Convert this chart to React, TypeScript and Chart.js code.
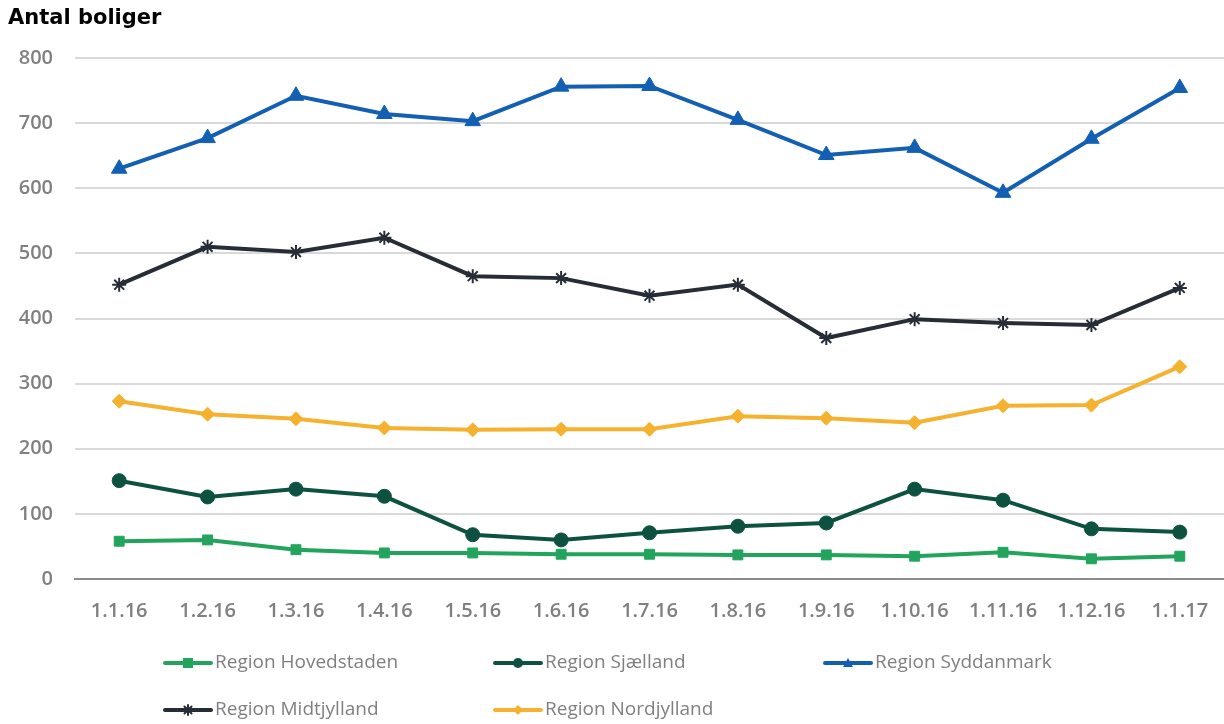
import React, { useEffect, useRef } from "react";
import { Chart, registerables } from "chart.js";

Chart.register(...registerables);

const categories = ["1.1.16", "1.2.16", "1.3.16", "1.4.16", "1.5.16", "1.6.16", "1.7.16", "1.8.16", "1.9.16", "1.10.16", "1.11.16", "1.12.16", "1.1.17"];
const hovedstaden = [58, 60, 45, 40, 40, 38, 38, 37, 37, 35, 41, 31, 35];
const sjaelland = [151, 126, 138, 127, 68, 60, 71, 81, 86, 138, 121, 77, 72];
const syddanmark = [630, 677, 742, 714, 703, 756, 757, 705, 651, 662, 593, 676, 754];
const midtjylland = [452, 510, 502, 524, 465, 462, 435, 452, 370, 399, 393, 390, 447];
const nordjylland = [273, 253, 246, 232, 229, 230, 230, 250, 247, 240, 266, 267, 326];
const yTicks = [0, 100, 200, 300, 400, 500, 600, 700, 800];

const seriesNames = ["Region Hovedstaden", "Region Sjælland", "Region Syddanmark", "Region Midtjylland", "Region Nordjylland"];
const seriesColors = ["#22A45D", "#0D5240", "#125FB3", "#262D36", "#F6B12F"];
const seriesMarkers = ["rect", "circle", "triangle", "star", "rectRot"];
const seriesRadius = [7, 7, 9, 7, 7];

function drawMarker(ctx: CanvasRenderingContext2D, style: string, x: number, y: number, r: number, color: string) {
  ctx.save();
  ctx.fillStyle = color;
  ctx.strokeStyle = color;
  ctx.lineWidth = 2;
  ctx.beginPath();
  if (style === "rect") {
    ctx.rect(x - r, y - r, 2 * r, 2 * r);
    ctx.fill();
  } else if (style === "circle") {
    ctx.arc(x, y, r, 0, Math.PI * 2);
    ctx.fill();
  } else if (style === "rectRot") {
    ctx.moveTo(x, y - r);
    ctx.lineTo(x + r, y);
    ctx.lineTo(x, y + r);
    ctx.lineTo(x - r, y);
    ctx.closePath();
    ctx.fill();
  } else if (style === "triangle") {
    ctx.moveTo(x, y - r);
    ctx.lineTo(x + r, y + r * 0.8);
    ctx.lineTo(x - r, y + r * 0.8);
    ctx.closePath();
    ctx.fill();
  } else if (style === "star") {
    for (let k = 0; k < 4; k++) {
      const a = (k * Math.PI) / 4;
      ctx.moveTo(x - r * Math.cos(a), y - r * Math.sin(a));
      ctx.lineTo(x + r * Math.cos(a), y + r * Math.sin(a));
    }
    ctx.stroke();
  }
  ctx.restore();
}

const legendPlugin = {
  id: "customLegend",
  afterDraw(chart: any) {
    const ctx = chart.ctx;
    ctx.save();
    ctx.font = "bold 21px 'DejaVu Sans'";
    ctx.fillStyle = "#000000";
    ctx.textBaseline = "middle";
    ctx.textAlign = "left";
    ctx.fillText("Antal boliger", 8, 19);
    const cols = [165, 495, 825];
    const rows = [663, 710];
    chart.data.datasets.forEach((ds: any, i: number) => {
      const x = cols[i % 3];
      const y = rows[Math.floor(i / 3)];
      ctx.strokeStyle = ds.borderColor;
      ctx.lineWidth = 4;
      ctx.lineCap = "round";
      ctx.beginPath();
      ctx.moveTo(x, y);
      ctx.lineTo(x + 46, y);
      ctx.stroke();
      drawMarker(ctx, ds.pointStyle, x + 23, y, 5, ds.borderColor);
      ctx.fillStyle = "#808080";
      ctx.font = "19px 'Open Sans'";
      ctx.textAlign = "left";
      ctx.textBaseline = "middle";
      ctx.fillText(ds.label, x + 50, y);
    });
    ctx.restore();
  },
};

export default function App() {
  const ref = useRef<HTMLCanvasElement>(null);
  useEffect(() => {
    document.body.style.margin = "0";
    const datasets = seriesNames.map((name, i) => ({
      label: name,
      data: [hovedstaden, sjaelland, syddanmark, midtjylland, nordjylland][i],
      borderColor: seriesColors[i],
      backgroundColor: seriesColors[i],
      pointBackgroundColor: seriesColors[i],
      pointBorderColor: seriesColors[i],
      borderWidth: 4,
      pointStyle: seriesMarkers[i],
      pointRadius: seriesRadius[i],
      pointBorderWidth: seriesMarkers[i] === "star" ? 2 : 1,
      tension: 0,
      clip: false,
      order: 5 - i,
    }));
    const chart = new Chart(ref.current!, {
      type: "line",
      data: { labels: categories, datasets },
      options: {
        animation: false,
        responsive: false,
        layout: { autoPadding: false, padding: { top: 58, left: 0, right: 0, bottom: 0 } },
        plugins: { legend: { display: false }, title: { display: false }, tooltip: { enabled: false } },
        scales: {
          x: {
            offset: true,
            grid: { display: false, drawTicks: false },
            border: { display: true, color: "#8C8C8C", width: 2 },
            ticks: { color: "#808080", font: { family: "'Open Sans'", size: 20, weight: 600 }, padding: 20, maxRotation: 0, autoSkip: false },
            afterFit: (s: any) => { s.height = 145; s.paddingLeft = 0; s.paddingRight = 0; },
          },
          y: {
            min: 0,
            max: 800,
            afterBuildTicks: (s: any) => { s.ticks = yTicks.map((v) => ({ value: v })); },
            grid: { color: "#D9D9D9", lineWidth: 2, drawTicks: false },
            border: { display: false },
            ticks: { color: "#808080", font: { family: "'Open Sans'", size: 20, weight: 600 }, padding: 22 },
            afterFit: (s: any) => { s.width = 75; },
          },
        },
      },
      plugins: [legendPlugin],
    });
    return () => chart.destroy();
  }, []);
  return <canvas ref={ref} width={1224} height={724} style={{ display: "block" }} />;
}
